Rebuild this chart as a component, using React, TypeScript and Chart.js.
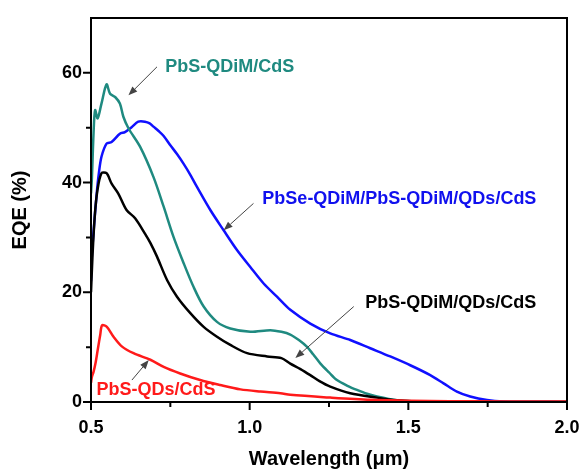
import { useEffect, useRef } from "react";
import { Chart, registerables } from "chart.js";

Chart.register(...registerables);

const FONT = "'Liberation Sans', Arial, Helvetica, sans-serif";

const xMajorTicks = [0.5, 1.0, 1.5, 2.0];
const xMinorTicks = [0.75, 1.25, 1.75];
const yMajorTicks = [0, 20, 40, 60];
const yMinorTicks = [10, 30, 50];

const seriesNames = [
  "PbS-QDs/CdS",
  "PbS-QDiM/QDs/CdS",
  "PbS-QDiM/CdS",
  "PbSe-QDiM/PbS-QDiM/QDs/CdS",
];
const seriesColors = ["#ff1a1a", "#000000", "#1f8a80", "#1010ff"];

const redX = [0.5, 0.503, 0.508, 0.514, 0.522, 0.529, 0.535, 0.55, 0.571, 0.598, 0.634, 0.687, 0.729, 0.781, 0.844, 0.907, 0.971, 1.034, 1.097, 1.128, 1.254, 1.38, 1.506, 1.63, 1.8, 2.0];
const redY = [3.5, 4.6, 5.5, 7.0, 9.8, 12.2, 14.0, 13.7, 11.9, 10.1, 8.9, 7.7, 6.4, 5.2, 4.0, 3.1, 2.3, 1.9, 1.6, 1.3, 0.8, 0.4, 0.25, 0.15, 0.1, 0.1];

const blackX = [0.5, 0.505, 0.512, 0.52, 0.533, 0.549, 0.565, 0.586, 0.612, 0.639, 0.67, 0.687, 0.708, 0.74, 0.771, 0.813, 0.855, 0.897, 0.939, 0.992, 1.055, 1.1, 1.128, 1.16, 1.191, 1.22, 1.254, 1.317, 1.401, 1.464, 1.52, 1.6, 2.0];
const blackY = [20, 27, 34, 38.5, 41.7, 41.7, 39.8, 38, 35, 33.5, 30.7, 29.0, 26.5, 22.2, 19.2, 16.2, 13.7, 11.9, 10.4, 8.9, 8.3, 8.0, 7.0, 6.0, 4.9, 3.8, 2.8, 1.6, 0.8, 0.3, 0.1, 0.05, 0];

const tealX = [0.5, 0.503, 0.508, 0.513, 0.521, 0.533, 0.549, 0.56, 0.576, 0.591, 0.602, 0.618, 0.655, 0.697, 0.729, 0.76, 0.792, 0.823, 0.855, 0.897, 0.939, 1.002, 1.065, 1.1, 1.128, 1.155, 1.18, 1.2, 1.223, 1.25, 1.275, 1.31, 1.338, 1.37, 1.401, 1.464, 1.52, 1.6, 2.0];
const tealY = [38, 41, 49, 53.2, 51.7, 54.4, 57.9, 56.2, 55.6, 54.4, 52, 49.9, 46.5, 41.0, 35.6, 30.1, 25.3, 21.0, 17.4, 14.6, 13.4, 12.8, 13.1, 12.8, 12.3, 11.3, 10.1, 8.7, 7.0, 5.4, 4.0, 2.9, 2.2, 1.5, 1.0, 0.3, 0.1, 0.05, 0];

const blueX = [0.5, 0.502, 0.508, 0.518, 0.525, 0.533, 0.549, 0.565, 0.591, 0.607, 0.628, 0.649, 0.67, 0.685, 0.697, 0.713, 0.729, 0.75, 0.771, 0.792, 0.813, 0.834, 0.876, 0.918, 0.96, 1.002, 1.044, 1.086, 1.128, 1.191, 1.254, 1.317, 1.38, 1.443, 1.506, 1.569, 1.611, 1.653, 1.695, 1.748, 1.8, 1.9, 2.0];
const blueY = [22, 25.9, 31, 38, 41.8, 44.7, 47.1, 47.4, 48.9, 49.2, 50.1, 51.1, 51.1, 50.8, 50.2, 49.4, 48.5, 46.8, 45.2, 43.4, 41.4, 39.2, 35.0, 31.3, 27.7, 24.6, 21.6, 19.2, 16.8, 14.3, 12.5, 11.3, 9.8, 8.3, 6.7, 4.9, 3.4, 1.9, 1.0, 0.36, 0.1, 0.05, 0];

const seriesX = [redX, blackX, tealX, blueX];
const seriesY = [redY, blackY, tealY, blueY];

// annotations (data coordinates)
const noteTexts = ["PbS-QDiM/CdS", "PbSe-QDiM/PbS-QDiM/QDs/CdS", "PbS-QDiM/QDs/CdS", "PbS-QDs/CdS"];
const noteColors = ["#1f8a80", "#1010ee", "#000000", "#ff1a1a"];
const noteX = [0.734, 1.04, 1.364, 0.517];
const noteY = [61.0, 37.0, 18.0, 2.2];
const arrowFromX = [0.708, 1.012, 1.328, 0.629];
const arrowFromY = [61.1, 36.2, 17.4, 4.0];
const arrowToX = [0.618, 0.918, 1.144, 0.682];
const arrowToY = [55.9, 31.3, 8.0, 7.65];

const framePlugin = {
  id: "frame",
  afterDraw(chart: any) {
    const { ctx, chartArea } = chart;
    const xs = chart.scales.x;
    const ys = chart.scales.y;
    ctx.save();
    ctx.strokeStyle = "#000";
    ctx.lineWidth = 2;
    ctx.strokeRect(chartArea.left, chartArea.top, chartArea.right - chartArea.left, chartArea.bottom - chartArea.top);
    ctx.beginPath();
    xMajorTicks.forEach((v) => {
      const p = xs.getPixelForValue(v);
      ctx.moveTo(p, chartArea.bottom);
      ctx.lineTo(p, chartArea.bottom + 8);
    });
    xMinorTicks.forEach((v) => {
      const p = xs.getPixelForValue(v);
      ctx.moveTo(p, chartArea.bottom);
      ctx.lineTo(p, chartArea.bottom + 5);
    });
    yMajorTicks.forEach((v) => {
      const p = ys.getPixelForValue(v);
      ctx.moveTo(chartArea.left, p);
      ctx.lineTo(chartArea.left - 8, p);
    });
    yMinorTicks.forEach((v) => {
      const p = ys.getPixelForValue(v);
      ctx.moveTo(chartArea.left, p);
      ctx.lineTo(chartArea.left - 5, p);
    });
    ctx.stroke();

    ctx.strokeStyle = "#444";
    ctx.fillStyle = "#444";
    ctx.lineWidth = 1;
    for (let i = 0; i < arrowFromX.length; i++) {
      const x1 = xs.getPixelForValue(arrowFromX[i]);
      const y1 = ys.getPixelForValue(arrowFromY[i]);
      const x2 = xs.getPixelForValue(arrowToX[i]);
      const y2 = ys.getPixelForValue(arrowToY[i]);
      const ang = Math.atan2(y2 - y1, x2 - x1);
      const hl = 9;
      const hw = 3.5;
      const bx = x2 - hl * Math.cos(ang);
      const by = y2 - hl * Math.sin(ang);
      ctx.beginPath();
      ctx.moveTo(x1, y1);
      ctx.lineTo(bx, by);
      ctx.stroke();
      ctx.beginPath();
      ctx.moveTo(x2, y2);
      ctx.lineTo(bx + hw * Math.sin(ang), by - hw * Math.cos(ang));
      ctx.lineTo(bx - hw * Math.sin(ang), by + hw * Math.cos(ang));
      ctx.closePath();
      ctx.fill();
    }

    ctx.font = `bold 18px ${FONT}`;
    ctx.textBaseline = "middle";
    ctx.textAlign = "left";
    for (let i = 0; i < noteTexts.length; i++) {
      ctx.fillStyle = noteColors[i];
      ctx.fillText(noteTexts[i], xs.getPixelForValue(noteX[i]), ys.getPixelForValue(noteY[i]));
    }
    ctx.restore();
  },
};

export default function App() {
  const ref = useRef<HTMLCanvasElement | null>(null);
  useEffect(() => {
    if (!ref.current) return;
    const chart = new Chart(ref.current, {
      type: "line",
      data: {
        datasets: seriesNames.map((name, i) => ({
          label: name,
          data: seriesX[i].map((x, j) => ({ x, y: seriesY[i][j] })),
          borderColor: seriesColors[i],
          backgroundColor: seriesColors[i],
          borderWidth: 2.5,
          pointRadius: 0,
          tension: 0.3,
          fill: false,
        })),
      },
      options: {
        animation: false,
        responsive: false,
        maintainAspectRatio: false,
        layout: { padding: { left: 0, top: 18, right: 16, bottom: 0 } },
        plugins: { legend: { display: false }, tooltip: { enabled: false } },
        scales: {
          x: {
            type: "linear",
            min: 0.5,
            max: 2.0,
            afterBuildTicks: (s: any) => {
              s.ticks = xMajorTicks.map((v) => ({ value: v }));
            },
            afterFit: (s: any) => {
              s.height = 73;
              s.paddingLeft = 0;
              s.paddingRight = 0;
            },
            grid: { display: false, drawTicks: false, tickLength: 0 },
            border: { display: false },
            ticks: {
              font: { family: FONT, size: 18, weight: "bold" },
              color: "#000",
              padding: 15,
              maxRotation: 0,
              autoSkip: false,
              callback: (v: any) => Number(v).toFixed(1),
            },
            title: {
              display: true,
              text: "Wavelength (μm)",
              color: "#000",
              font: { family: FONT, size: 20, weight: "bold" },
              padding: { top: 0, bottom: 4 },
            },
          },
          y: {
            type: "linear",
            min: 0,
            max: 70,
            afterBuildTicks: (s: any) => {
              s.ticks = yMajorTicks.map((v) => ({ value: v }));
            },
            afterFit: (s: any) => {
              s.width = 91;
              s.paddingTop = 0;
              s.paddingBottom = 0;
            },
            grid: { display: false, drawTicks: false, tickLength: 0 },
            border: { display: false },
            ticks: {
              font: { family: FONT, size: 18, weight: "bold" },
              color: "#000",
              padding: 9,
              autoSkip: false,
              callback: (v: any) => String(v),
            },
            title: {
              display: true,
              text: "EQE (%)",
              color: "#000",
              font: { family: FONT, size: 20, weight: "bold" },
              padding: { top: 8, bottom: 0 },
            },
          },
        },
      },
      plugins: [framePlugin],
    });
    return () => chart.destroy();
  }, []);
  return (
    <div style={{ position: "absolute", left: 0, top: 0, width: 583, height: 475, background: "#fff" }}>
      <canvas ref={ref} width={583} height={475} style={{ display: "block" }} />
    </div>
  );
}
